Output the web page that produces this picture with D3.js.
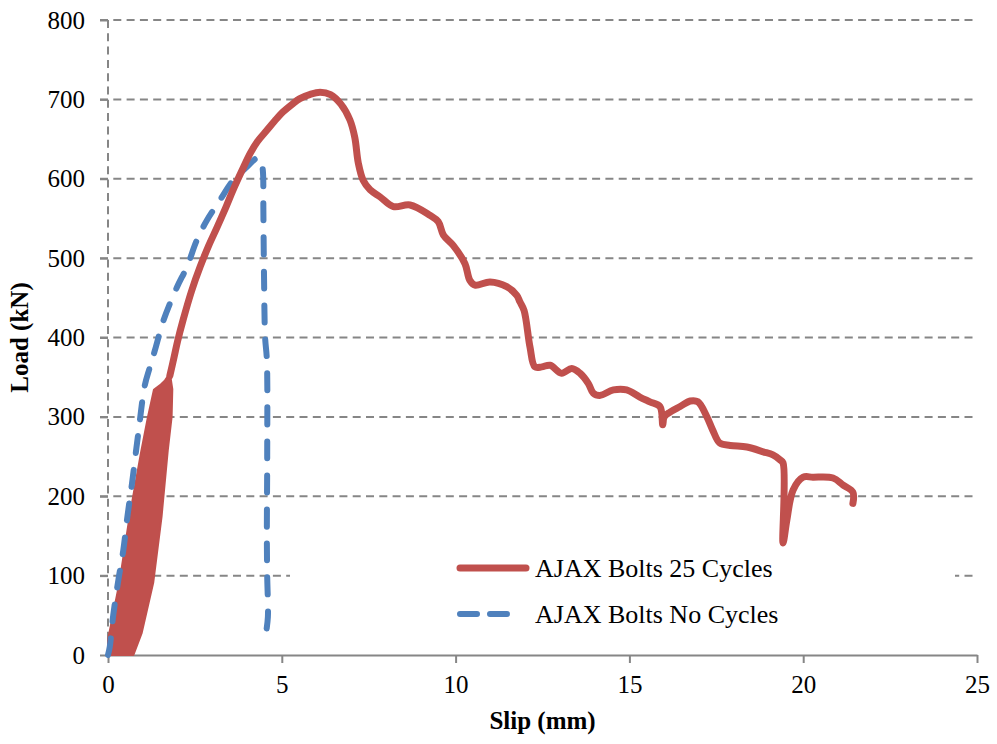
<!DOCTYPE html>
<html>
<head>
<meta charset="utf-8">
<script src="https://cdn.jsdelivr.net/npm/d3@7"></script>
<style>
  body { margin: 0; background: #fff; }
  text { font-family: "Liberation Serif", "Times New Roman", serif; fill: #000; }
</style>
</head>
<body>
<div class="chartContainer"></div>
<script>
// ======= data (slip mm, load kN) ========

var xTicks = [0, 5, 10, 15, 20, 25];
var yTicks = [0, 100, 200, 300, 400, 500, 600, 700, 800];

var seriesNames = ["AJAX Bolts 25 Cycles", "AJAX Bolts No Cycles"];

// cyclic part of the 25 cycle test, drawn as one filled band
var cycleLoading = [[0, 0], [0, 19], [0.33, 91], [0.62, 174], [0.95, 255], [1.15, 300],
  [1.32, 334], [1.5, 340], [1.64, 346], [1.78, 355]];
var cycleUnloading = [[1.85, 335], [1.83, 300], [1.72, 258], [1.54, 174], [1.3, 91],
  [0.97, 28], [0.73, 0]];

var cycled = [[1.78, 352], [1.9, 375], [2.0, 395], [2.16, 422], [2.4, 458], [2.65, 489],
  [2.9, 516], [3.14, 539], [3.4, 565], [3.6, 586], [3.85, 610], [4.09, 632], [4.3, 647],
  [4.57, 661], [4.8, 673], [5.03, 684], [5.3, 694], [5.52, 701], [5.8, 706], [6.1, 709],
  [6.4, 706], [6.7, 694], [6.96, 674], [7.1, 652], [7.2, 620], [7.34, 598], [7.54, 586],
  [7.83, 577], [8.21, 565], [8.69, 567], [9.26, 554], [9.5, 546], [9.65, 529], [9.93, 516],
  [10.27, 493], [10.41, 472], [10.56, 466], [10.99, 470], [11.47, 464], [11.76, 453],
  [11.85, 445], [11.97, 434], [12.14, 388], [12.28, 363], [12.48, 363], [12.72, 365],
  [13.05, 355], [13.34, 361], [13.58, 355], [13.82, 342], [13.96, 330], [14.15, 327],
  [14.54, 334], [14.92, 334], [15.3, 325], [15.59, 319], [15.88, 313], [15.96, 290],
  [16.0, 300], [16.17, 306], [16.46, 313], [16.75, 320], [16.97, 319], [17.23, 300],
  [17.4, 283], [17.6, 267], [17.9, 264], [18.38, 262], [18.85, 256], [19.13, 252],
  [19.33, 246], [19.42, 242], [19.42, 141], [19.53, 170], [19.71, 208], [20.0, 224],
  [20.28, 224], [20.86, 223], [21.15, 214], [21.43, 205], [21.43, 191]];

var noCycles = [[0, 0], [0.05, 10], [0.15, 50], [0.3, 95], [0.44, 132], [0.56, 175],
  [0.69, 216], [0.87, 279], [1.06, 340], [1.2, 362], [1.35, 384], [1.6, 422], [1.98, 463],
  [2.27, 489], [2.56, 523], [2.85, 548], [3.22, 573], [3.6, 598], [4.0, 615], [4.28, 626],
  [4.38, 625], [4.43, 618], [4.46, 607], [4.47, 560], [4.49, 472], [4.52, 400], [4.57, 372],
  [4.58, 250], [4.57, 150], [4.58, 100], [4.6, 48], [4.55, 29]];

// ======= setup ========

var width = 997;
var height = 744;
var margin = {top: 20, right: 20, bottom: 89, left: 108};
var red = "#C0504D", blue = "#4F81BD", grey = "#868686";
var serif = "'Liberation Serif', 'Times New Roman', serif";

var svg = d3.select(".chartContainer")
  .append("svg")
    .attr("width", width)
    .attr("height", height)
    .attr("font-family", serif);

var x = d3.scaleLinear()
    .domain([0, 25])
    .range([margin.left, width - margin.right]);

var y = d3.scaleLinear()
    .domain([0, 800])
    .range([height - margin.bottom, margin.top]);

// ======= grid and axes ========

svg.append("g").attr("class", "grid")
  .selectAll("line")
    .data(yTicks.filter(function(d){ return d > 0; }))
  .enter().append("line")
    .attr("x1", x(0) - 8)
    .attr("x2", x(25))
    .attr("y1", function(d){ return y(d); })
    .attr("y2", function(d){ return y(d); })
    .style("stroke", grey)
    .style("stroke-width", 2)
    .style("stroke-dasharray", "8,5.3");

// y axis line is dashed like the grid
svg.append("line")
    .attr("x1", x(0)).attr("x2", x(0))
    .attr("y1", y(800)).attr("y2", y(0))
    .style("stroke", grey)
    .style("stroke-width", 2)
    .style("stroke-dasharray", "8,5.3");

var yAxis = svg.append("g")
    .attr("transform", "translate(" + x(0) + ",0)")
    .call(d3.axisLeft(y).tickValues(yTicks).tickSize(8).tickPadding(15));
yAxis.select(".domain").remove();

var xAxis = svg.append("g")
    .attr("transform", "translate(0," + y(0) + ")")
    .call(d3.axisBottom(x).tickValues(xTicks).tickSize(8).tickSizeOuter(0).tickPadding(12));

yAxis.attr("font-family", serif).attr("font-size", 25);
xAxis.attr("font-family", serif).attr("font-size", 25);
svg.selectAll(".tick line").style("stroke", grey).style("stroke-width", 2);
xAxis.select(".domain").style("stroke", grey).style("stroke-width", 2);
svg.selectAll(".tick text")
    .style("font-family", serif)
    .style("font-size", "25px")
    .style("fill", "#000");

svg.append("text")
    .attr("x", (x(0) + x(25)) / 2)
    .attr("y", 729)
    .attr("text-anchor", "middle")
    .style("font-size", "25px")
    .style("font-weight", "bold")
    .text("Slip (mm)");

svg.append("text")
    .attr("transform", "translate(28," + ((y(0) + y(800)) / 2) + ") rotate(-90)")
    .attr("text-anchor", "middle")
    .style("font-size", "25px")
    .style("font-weight", "bold")
    .text("Load (kN)");

// ======= legend background ========

var legend = svg.append("g").attr("class", "legend");
legend.append("rect")
    .attr("x", 290).attr("y", 540)
    .attr("width", 665).attr("height", 102)
    .style("fill", "#fff");

// ======= series ========

var line = d3.line()
    .curve(d3.curveCatmullRom.alpha(0.5))
    .x(function(d){ return x(d[0]); })
    .y(function(d){ return y(d[1]); });

var band = d3.line()
    .x(function(d){ return x(d[0]); })
    .y(function(d){ return y(d[1]); });

svg.append("path")
    .datum(cycleLoading.concat(cycleUnloading))
    .attr("d", function(d){ return band(d) + "Z"; })
    .style("fill", red)
    .style("stroke", red)
    .style("stroke-width", 2)
    .style("stroke-linejoin", "round");

svg.append("path")
    .datum(noCycles)
    .attr("d", line)
    .style("fill", "none")
    .style("stroke", blue)
    .style("stroke-width", 6)
    .style("stroke-linecap", "round")
    .style("stroke-linejoin", "round")
    .style("stroke-dasharray", "17,17");

svg.append("path")
    .datum(cycled)
    .attr("d", line)
    .style("fill", "none")
    .style("stroke", red)
    .style("stroke-width", 7)
    .style("stroke-linecap", "round")
    .style("stroke-linejoin", "round");

// ======= legend entries ========

var entries = legend.selectAll(".entry")
    .data(seriesNames)
  .enter().append("g")
    .attr("class", "entry")
    .attr("transform", function(d, i){ return "translate(460," + (568 + i * 46) + ")"; });

entries.append("line")
    .attr("x1", 0).attr("x2", function(d, i){ return i === 0 ? 66 : 60; })
    .attr("y1", 0).attr("y2", 0)
    .style("stroke", function(d, i){ return i === 0 ? red : blue; })
    .style("stroke-width", function(d, i){ return i === 0 ? 7 : 6; })
    .style("stroke-linecap", "round")
    .style("stroke-dasharray", function(d, i){ return i === 0 ? null : "17,13"; });

entries.append("text")
    .attr("x", 75)
    .attr("y", 9)
    .style("font-size", "26px")
    .text(function(d){ return d; });
</script>
</body>
</html>
